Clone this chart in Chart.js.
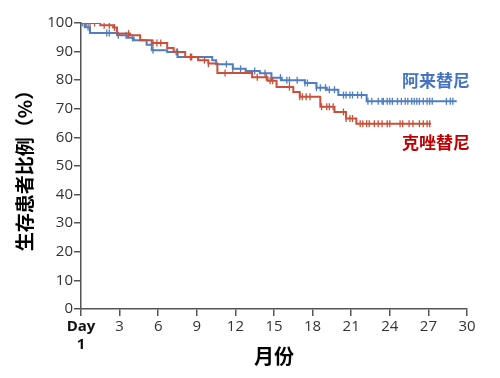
<!DOCTYPE html>
<html>
<head>
<meta charset="utf-8">
<script src="https://cdn.jsdelivr.net/npm/chart.js@4.4.1/dist/chart.umd.min.js"></script>
<style>
  html, body { margin: 0; padding: 0; background: #fff; }
  #wrap { width: 500px; height: 378px; }
</style>
</head>
<body>
<div id="wrap"><canvas id="km"></canvas></div>
<script>
// x axis: months, Day 1 sits at 0
const xTicks = [0, 3, 6, 9, 12, 15, 18, 21, 24, 27, 30];
const yTicks = [0, 10, 20, 30, 40, 50, 60, 70, 80, 90, 100];

// 阿来替尼 (alectinib) - KM steps: time of drop, survival after drop
const alecTime = [0, 0.3, 0.7, 2.8, 3.6, 4.1, 5.1, 5.5, 6.7, 7.5, 10.2, 10.5, 11.8, 12.8, 13.9, 14.8, 15.6, 17.4, 18.3, 19.1, 20.0, 22.2, 29.2];
const alecSurv = [100, 98.5, 96.5, 95.7, 94.8, 94.0, 92.4, 90.5, 89.9, 88.1, 87.0, 85.6, 84.0, 83.2, 82.4, 80.9, 80.0, 79.0, 77.4, 76.7, 74.8, 72.6, 72.6];
const alecCensor = [0.1, 0.25, 0.55, 2.0, 2.2, 2.9, 3.5, 4.0, 5.6, 7.4, 11.3, 11.8, 12.4, 13.5, 14.3, 14.8, 15.5, 16.0, 16.2, 16.8, 17.4, 17.6, 18.3, 18.6, 19.0, 19.3, 19.7, 20.4, 20.6, 20.9, 21.1, 21.5, 21.8,
  22.3, 22.6, 23.1, 23.4, 23.5, 23.8, 24.0, 24.2, 24.6, 24.9, 25.2, 25.4, 25.7, 25.9, 26.1, 26.3, 26.6, 26.9, 27.1, 27.3, 28.4, 28.7, 28.9];

// 克唑替尼 (crizotinib)
const crizTime = [0, 1.5, 2.5, 2.8, 3.8, 4.6, 5.5, 6.7, 7.2, 8.1, 9.1, 9.9, 10.6, 13.3, 14.5, 15.2, 16.5, 17.0, 18.6, 19.7, 20.6, 21.4, 27.2];
const crizSurv = [100, 99.2, 98.4, 96.3, 95.7, 94.0, 93.0, 91.3, 89.9, 88.1, 87.0, 85.8, 82.5, 81.0, 79.8, 77.6, 75.9, 74.2, 70.7, 68.9, 66.6, 64.8, 64.8];
const crizCensor = [0.4, 0.7, 1.05, 1.8, 2.2, 2.6, 3.7, 5.6, 5.9, 6.2, 7.5, 8.5, 8.6, 9.6, 9.9, 11.2, 13.7, 14.4, 14.7, 14.9, 16.2, 17.0, 17.2, 17.5, 17.8, 18.7, 19.1, 19.3, 19.6, 20.4, 20.6, 20.9, 21.1,
  21.7, 21.9, 22.2, 22.4, 22.8, 23.1, 23.4, 23.8, 24.0, 24.8, 25.0, 25.5, 25.8, 26.3, 26.6, 26.9, 27.1];

const blue = '#4f7fc1';
const red = '#c9503a';

function survAt(times, surv, t) {
  let v = surv[0];
  for (let i = 0; i < times.length; i++) {
    if (times[i] <= t) v = surv[i];
  }
  return v;
}

const pts = (times, surv) => times.map((t, i) => ({ x: t, y: surv[i] }));
const marks = (cens, times, surv) => cens.map(t => ({ x: t, y: survAt(times, surv, t) }));

const cjk = '"Noto Sans CJK SC", "Noto Sans", sans-serif';
const num = '"Open Sans", "Noto Sans", sans-serif';

const labelPlugin = {
  id: 'seriesLabels',
  afterDraw(chart) {
    const ctx = chart.ctx;
    ctx.save();
    ctx.font = 'bold 17px ' + cjk;
    ctx.textBaseline = 'middle';
    ctx.textAlign = 'left';
    ctx.fillStyle = '#4472c4';
    ctx.fillText('阿来替尼', 402, 81);
    ctx.fillStyle = '#c00000';
    ctx.fillText('克唑替尼', 402, 143);
    ctx.restore();
  }
};

new Chart(document.getElementById('km'), {
  type: 'scatter',
  data: {
    datasets: [
      { label: '阿来替尼', data: pts(alecTime, alecSurv), showLine: true, stepped: true,
        borderColor: blue, borderWidth: 2, pointRadius: 0, order: 2 },
      { label: '克唑替尼', data: pts(crizTime, crizSurv), showLine: true, stepped: true,
        borderColor: red, borderWidth: 2, pointRadius: 0, order: 1 },
      { label: 'a-censor', data: marks(alecCensor, alecTime, alecSurv), pointStyle: 'line', rotation: 90,
        pointRadius: 3.5, borderColor: blue, borderWidth: 1.3, order: 2 },
      { label: 'c-censor', data: marks(crizCensor, crizTime, crizSurv), pointStyle: 'line', rotation: 90,
        pointRadius: 3.5, borderColor: red, borderWidth: 1.3, order: 1 }
    ]
  },
  options: {
    responsive: true,
    maintainAspectRatio: false,
    animation: false,
    events: [],
    layout: { padding: { left: 13, right: 33, top: 23, bottom: 10 } },
    plugins: { legend: { display: false }, tooltip: { enabled: false } },
    scales: {
      x: {
        type: 'linear', min: 0, max: 30,
        afterBuildTicks: s => { s.ticks = xTicks.map(v => ({ value: v })); },
        afterFit: s => { s.height = 59; },
        border: { color: '#555', width: 1.5 },
        grid: { drawOnChartArea: false, drawTicks: true, tickLength: 7, color: '#555', lineWidth: 1.5 },
        ticks: {
          padding: 2,
          maxRotation: 0,
          autoSkip: false,
          color: c => c.tick && c.tick.value === 0 ? '#111' : '#333',
          font: c => ({ family: num, size: 15, weight: c.tick && c.tick.value === 0 ? 'bold' : 'normal' }),
          callback: v => v === 0 ? ['Day', '1'] : String(v)
        },
        title: { display: true, text: '月份', color: '#000', padding: { top: 0, bottom: 0 },
          font: { family: cjk, size: 20, weight: 'bold' } }
      },
      y: {
        min: 0, max: 100,
        afterBuildTicks: s => { s.ticks = yTicks.map(v => ({ value: v })); },
        afterFit: s => { s.width = 68; },
        border: { color: '#555', width: 1.5 },
        grid: { drawOnChartArea: false, drawTicks: true, tickLength: 7, color: '#555', lineWidth: 1.5 },
        ticks: { padding: 1, color: '#333', font: { family: num, size: 15 } },
        title: { display: true, text: '生存患者比例（%）', color: '#000', padding: 0,
          font: { family: cjk, size: 19, weight: 'bold' } }
      }
    }
  },
  plugins: [labelPlugin]
});
</script>
</body>
</html>
